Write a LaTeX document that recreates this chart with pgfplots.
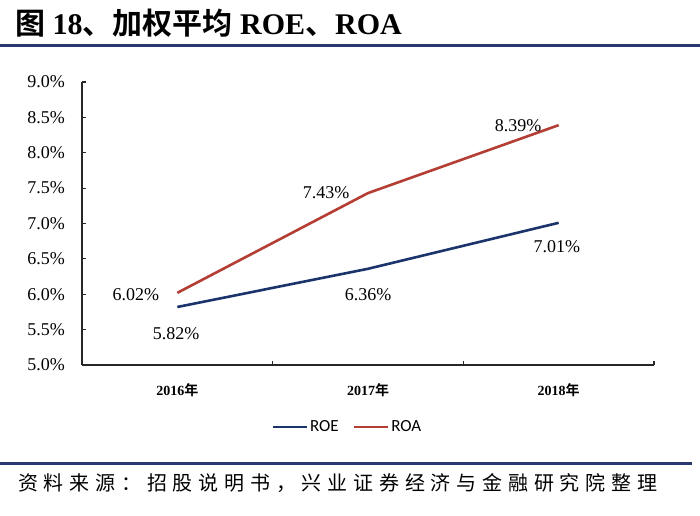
\documentclass[border=0pt]{standalone}
\usepackage{fontspec}
\setmainfont{Liberation Serif}
\newfontfamily\cjk{Noto Sans CJK SC}[BoldFont={Noto Sans CJK SC Bold}]
\newfontfamily\cjksrc{Noto Sans CJK SC}[LetterSpace=29]
\newfontfamily\legfont{Carlito}
\usepackage{pgfplots}
\pgfplotsset{compat=1.18}
\definecolor{roe}{RGB}{28,52,108}
\definecolor{roa}{RGB}{180,62,52}
\definecolor{rule}{RGB}{43,55,112}
\begin{document}
\begin{tikzpicture}[x=1pt,y=1pt]
\path[use as bounding box, fill=white] (0,0) rectangle (700,515);
% title
\node[anchor=west, inner sep=0pt, font=\fontsize{30}{32}\selectfont\bfseries] at (15,492) {{\cjk 图} 18{\cjk 、加权平均} ROE{\cjk 、}ROA};
\draw[rule, line width=3pt] (0,469) -- (700,469);
% source
\draw[rule, line width=3pt] (0,52) -- (692,52);
\node[anchor=west, inner sep=0pt, font=\fontsize{20}{22}\selectfont] at (18,32) {\cjksrc 资料来源：招股说明书，兴业证券经济与金融研究院整理};
\begin{axis}[
  at={(82pt,150pt)}, anchor=south west,
  scale only axis, width=572pt, height=283pt,
  xmin=-0.5, xmax=2.5, ymin=5, ymax=9,
  axis lines=left, axis line style={-, line width=1.1pt, black!85},
  tick align=inside,
  xtick={0,1,2},
  xticklabels={{\bfseries 2016{\cjk 年}},{\bfseries 2017{\cjk 年}},{\bfseries 2018{\cjk 年}}},
  major x tick style={draw=none},
  minor xtick={-0.5,0.5,1.5,2.5},
  minor tick length=4pt,
  minor x tick style={line width=1.1pt, black!85},
  xticklabel style={font=\fontsize{14}{16}\selectfont, anchor=center, yshift=-25pt},
  ytick={5,5.5,6,6.5,7,7.5,8,8.5,9},
  yticklabels={5.0\%,5.5\%,6.0\%,6.5\%,7.0\%,7.5\%,8.0\%,8.5\%,9.0\%},
  major tick length=4pt,
  major y tick style={line width=1.1pt, black!85},
  yticklabel style={font=\fontsize{18}{20}\selectfont, anchor=east, inner sep=0pt, xshift=-17pt},
  clip=false,
  legend style={at={(0.464,-0.219)}, anchor=center, draw=none, fill=none,
    font=\legfont\fontsize{17}{19}\selectfont, legend columns=2,
    /tikz/every even column/.append style={column sep=12pt},
    inner sep=0pt},
  legend image code/.code={\draw[#1] (0pt,0pt) -- (34pt,0pt);},
]
\addplot[roe, line width=2.6pt] coordinates {(0,5.82) (1,6.36) (2,7.01)};
\addlegendentry{ROE}
\addplot[roa, line width=2.6pt] coordinates {(0,6.02) (1,7.43) (2,8.39)};
\addlegendentry{ROA}
\begin{scope}[every node/.style={font=\fontsize{18}{20}\selectfont, inner sep=0pt}]
\node at (axis cs:-0.217,5.99) {6.02\%};
\node at (axis cs:-0.007,5.45) {5.82\%};
\node at (axis cs:0.78,7.43) {7.43\%};
\node at (axis cs:1.0,5.99) {6.36\%};
\node at (axis cs:1.787,8.39) {8.39\%};
\node at (axis cs:1.99,6.67) {7.01\%};
\end{scope}
\end{axis}
\end{tikzpicture}
\end{document}
